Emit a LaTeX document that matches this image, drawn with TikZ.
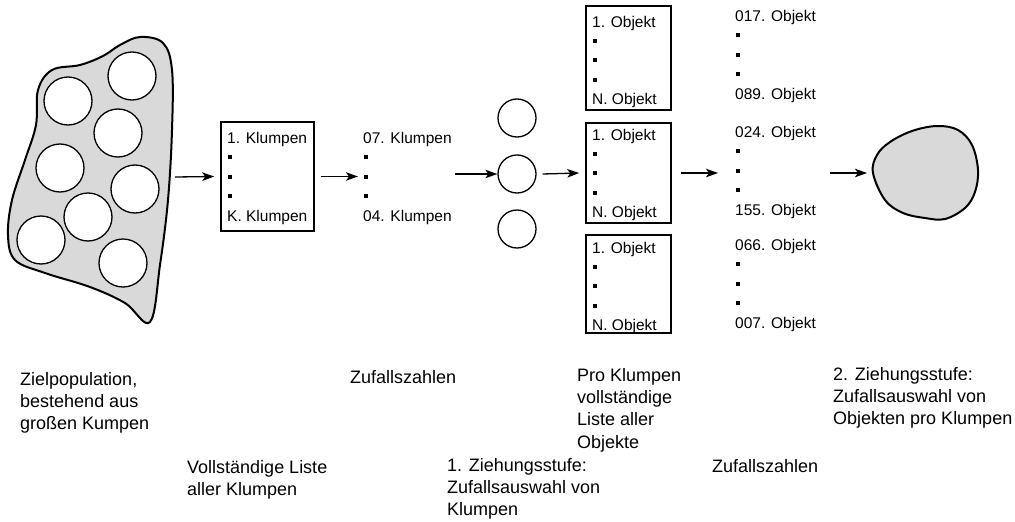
\documentclass[tikz,border=0pt]{standalone}
\usepackage{fontspec}
\setmainfont{Liberation Sans}
\usetikzlibrary{arrows.meta}
\definecolor{blobgray}{RGB}{217,217,217}
\newcommand\kdot{\hspace{1pt}\rule[3.5pt]{4pt}{4pt}}
\tikzset{
 lbl/.style={anchor=north west, inner sep=0, align=left, font=\fontsize{18}{22.3}\selectfont},
 lst/.style={anchor=north west, inner sep=0, align=left, font=\fontsize{15.5}{19.5}\selectfont},
 lstobj/.style={anchor=north west, inner sep=0, align=left, font=\fontsize{15.5}{19.3}\selectfont},
 listbox/.style={draw, line width=1.5pt, inner sep=0, rectangle},
 arr/.style={line width=1.3pt, -{Stealth[length=12pt,width=8.5pt,inset=3pt]}},
 clump/.style={circle, draw, line width=1.3pt, fill=white, inner sep=0, minimum size=48pt},
 smallc/.style={circle, draw, line width=1.3pt, inner sep=0, minimum size=38pt},
 blob/.style={draw, line width=2pt, fill=blobgray}
}
\begin{document}
\begin{tikzpicture}[x=1pt,y=-1pt]
\useasboundingbox (0,0) rectangle (1015,522);
% population blob
\draw[blob] plot[smooth cycle, tension=0.6] coordinates {(140,37) (163,43) (172,70) (172,130) (168,200) (160,265) (150,322) (125,303) (90,287) (45,273) (15,260) (8,235) (12,200) (25,160) (36,125) (38,90) (52,70) (80,65) (103,56) (120,45)};
\node[clump] (k1) at (132,76) {};
\node[clump] (k2) at (68,101) {};
\node[clump] (k3) at (118,133) {};
\node[clump] (k4) at (60,168) {};
\node[clump] (k5) at (135,189) {};
\node[clump] (k6) at (88,217) {};
\node[clump] (k7) at (41,240) {};
\node[clump] (k8) at (123,263) {};
% list of clumps
\node[listbox, minimum width=93pt, minimum height=109pt] (b1) at (267.5,176.5) {};
\node[lst] (t1) at (227,131.9) {1. Klumpen\\\kdot\\\kdot\\\kdot\\K. Klumpen};
\node[lst] (l1) at (363,131.9) {07. Klumpen\\\kdot\\\kdot\\\kdot\\04. Klumpen};
% chosen clumps
\node[smallc] (c1) at (517,118) {};
\node[smallc] (c2) at (517,174) {};
\node[smallc] (c3) at (517,229) {};
% object lists
\node[listbox, minimum width=85pt, minimum height=104pt] (b2) at (628.5,58) {};
\node[listbox, minimum width=85pt, minimum height=100pt] (b3) at (628.5,173) {};
\node[listbox, minimum width=85pt, minimum height=98pt] (b4) at (628.5,284) {};
\node[lstobj] (t2) at (592,15.9) {1. Objekt\\\kdot\\\kdot\\\kdot\\N. Objekt};
\node[lstobj] (t3) at (592,128.9) {1. Objekt\\\kdot\\\kdot\\\kdot\\N. Objekt};
\node[lstobj] (t4) at (592,241.9) {1. Objekt\\\kdot\\\kdot\\\kdot\\N. Objekt};
% selected objects
\node[lst] (l3a) at (735,9.9) {017. Objekt\\\kdot\\\kdot\\\kdot\\089. Objekt};
\node[lst] (l3b) at (735,125.9) {024. Objekt\\\kdot\\\kdot\\\kdot\\155. Objekt};
\node[lst] (l3c) at (735,238.9) {066. Objekt\\\kdot\\\kdot\\\kdot\\007. Objekt};
% sample blob
\draw[blob] plot[smooth cycle, tension=0.6] coordinates {(873,173) (877,155) (890,142) (912,131) (937,126) (958,130) (972,145) (978,170) (975,192) (965,208) (945,219) (925,218) (903,213) (885,200)};
\coordinate (g) at (873,173);
% arrows
\coordinate (a1s) at (175,177);
\coordinate (a3s) at (455,174);
\coordinate (a6s) at (830,173);
\draw[arr] (a1s) -- ([xshift=-6pt]b1.west);
\draw[arr] ([xshift=6pt]b1.east) -- ([xshift=-5pt]l1.west |- b1.east);
\draw[arr] (a3s) -- (c2.west);
\draw[arr] ([xshift=6pt]c2.east) -- ([xshift=-6pt]b3.west);
\draw[arr] ([xshift=9pt]b3.east) -- ([xshift=-17pt]l3b.west |- b3.east);
\draw[arr] (a6s) -- ([xshift=-6pt]g);
% labels
\node[lbl] (L1) at (20,372.1) {Zielpopulation,\\bestehend aus\\großen Kumpen};
\node[lbl] (L2) at (350,370.1) {Zufallszahlen};
\node[lbl] (L3) at (187,460.1) {Vollständige Liste\\aller Klumpen};
\node[lbl] (L4) at (447,458.1) {1. Ziehungsstufe:\\Zufallsauswahl von\\Klumpen};
\node[lbl] (L5) at (577,368.1) {Pro Klumpen\\vollständige\\Liste aller\\Objekte};
\node[lbl] (L6) at (712,459.1) {Zufallszahlen};
\node[lbl] (L7) at (833,367.1) {2. Ziehungsstufe:\\Zufallsauswahl von\\Objekten pro Klumpen};
\end{tikzpicture}
\end{document}
